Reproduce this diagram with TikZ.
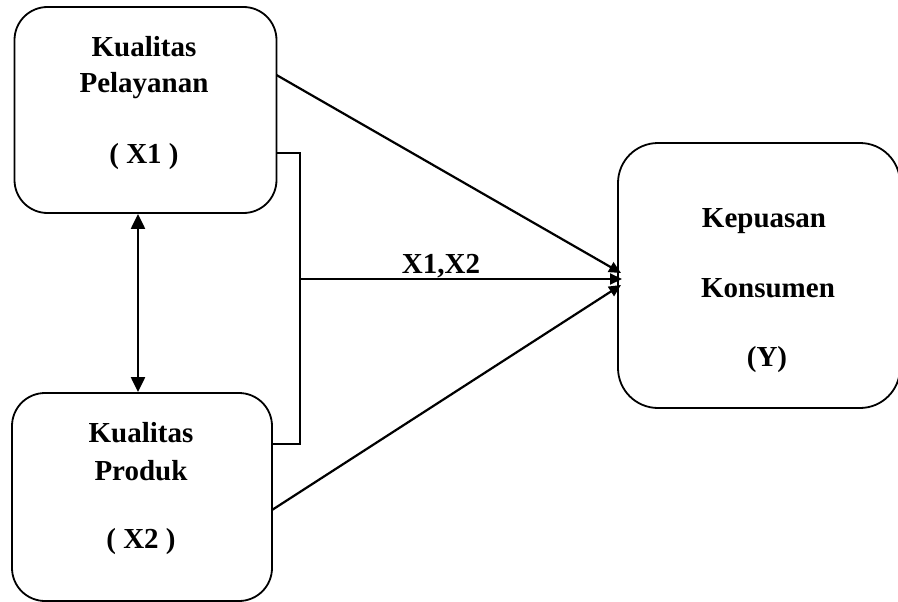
\documentclass[tikz,border=0pt]{standalone}
\usepackage{fontspec}
\setmainfont{Liberation Serif}
\usetikzlibrary{arrows.meta}
\begin{document}
\begin{tikzpicture}[x=1pt,y=-1pt,
  box/.style={draw,line width=1.8pt,rounded corners=33pt,inner sep=0pt},
  lbl/.style={anchor=base,font=\fontsize{29}{32}\selectfont\bfseries,inner sep=0pt},
  conn/.style={line width=2.2pt},
  tip/.style={-{Triangle[length=12pt,width=11pt]}},
  dtip/.style={{Triangle[length=15pt,width=14pt]}-{Triangle[length=15pt,width=14pt]}}]
\useasboundingbox (0,0) rectangle (898,602);
\node[box,minimum width=262pt,minimum height=206pt] (b1) at (145.5,110) {};
\node[box,minimum width=260pt,minimum height=208pt] (b2) at (142,497) {};
\node[box,rounded corners=40pt,minimum width=282pt,minimum height=265pt] (b3) at (759,275.5) {};
% texts
\node[lbl] (t1a) at (144,57) {Kualitas};
\node[lbl] (t1b) at (144,93) {Pelayanan};
\node[lbl] (t1c) at (144,163) {( X1 )};
\node[lbl] (t2a) at (141,442) {Kualitas};
\node[lbl] (t2b) at (141,480) {Produk};
\node[lbl] (t2c) at (141,548) {( X2 )};
\node[lbl] (t3a) at (764,227) {Kepuasan};
\node[lbl] (t3b) at (768,297) {Konsumen};
\node[lbl] (t3c) at (767,366) {(Y)};
\node[lbl] (tx) at (441,273) {X1,X2};
% coordinates
\coordinate (br1) at (300,153);
\coordinate (br2) at (300,444);
\coordinate (hm) at (300,279);
\coordinate (e1) at (621,273);
\coordinate (e2) at (622,279);
\coordinate (e3) at (621,285);
\coordinate (s1) at (276.5,75);
\coordinate (s2) at (272,510);
% bracket
\draw[conn] (b1.east |- br1) -- (br1) -- (br2) -- (b2.east |- br2);
% arrows
\draw[conn,tip] (hm) -- (e2);
\draw[conn,tip] (s1) -- (e1);
\draw[conn,tip] (s2) -- (e3);
\draw[conn,dtip] (b1.south -| 138,0) -- (b2.north -| 138,0);
\end{tikzpicture}
\end{document}
